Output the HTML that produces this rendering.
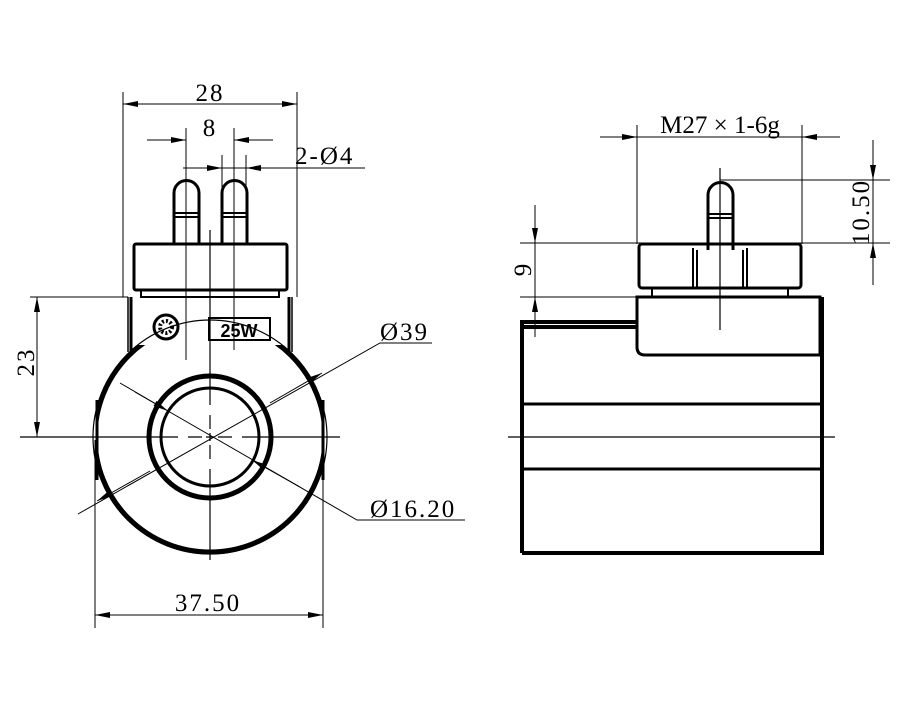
<!DOCTYPE html>
<html><head><style>html,body{margin:0;padding:0;background:#fff}svg{display:block}</style></head>
<body>
<svg width="900" height="711" viewBox="0 0 900 711" xmlns="http://www.w3.org/2000/svg" font-family="'Liberation Serif','Noto Serif CJK SC',serif">
<defs>
<marker id="a" viewBox="0 0 10 4" refX="10" refY="2" markerWidth="18" markerHeight="6" markerUnits="userSpaceOnUse" orient="auto-start-reverse"><path d="M0,0L10,2L0,4z" fill="#000"/></marker>
<clipPath id="cl"><rect x="97" y="345" width="226" height="230"/></clipPath>
</defs>
<g stroke="#000" fill="none">
<!-- LEFT VIEW -->
<circle cx="210" cy="437" r="117" stroke-width="1.2"/>
<g clip-path="url(#cl)"><circle cx="210" cy="437" r="115" stroke-width="5"/></g>
<line x1="97" y1="400" x2="97" y2="480" stroke-width="3"/>
<line x1="323" y1="400" x2="323" y2="480" stroke-width="3"/>
<circle cx="210" cy="437" r="61" stroke-width="5"/>
<circle cx="210" cy="437" r="49" stroke-width="3"/>
<!-- bracket -->
<path d="M128 297V352M292 297V352" stroke-width="1.5"/>
<path d="M131 297V355M289 297V355" stroke-width="3"/>
<rect x="134" y="244" width="153" height="46" rx="2" stroke-width="3"/>
<path d="M141 290V297H279V290" stroke-width="2"/>
<!-- pins -->
<path d="M174 244V193A12.5 12.5 0 0 1 199 193V244" stroke-width="3"/>
<path d="M174 213H199M174 217H199" stroke-width="2"/>
<path d="M222 244V193A12.5 12.5 0 0 1 247 193V244" stroke-width="3"/>
<path d="M222 213H247M222 217H247" stroke-width="2"/>
<circle cx="166" cy="327" r="12" stroke-width="3"/>
<circle cx="166" cy="327" r="6" stroke-width="4" stroke-dasharray="2 2"/>
<rect x="209" y="318" width="61" height="22" stroke-width="2"/>
<!-- center lines -->
<path d="M20 437H178M188 437H202M206 437H214M218 437H232M242 437H340" stroke-width="1.2"/>
<path d="M210 230V405M210 415V429M210 433V441M210 445V459M210 469V560" stroke-width="1.2"/>
<!-- dims left -->
<path d="M123 92V297M297 92V297" stroke-width="1"/>
<line x1="123" y1="104" x2="297" y2="104" stroke-width="1" marker-start="url(#a)" marker-end="url(#a)"/>
<path d="M186 128V360M234 128V350" stroke-width="1"/>
<path d="M147 140H186M234 140H273" stroke-width="1"/>
<line x1="160" y1="140" x2="186" y2="140" stroke-width="1" marker-end="url(#a)"/>
<line x1="260" y1="140" x2="234" y2="140" stroke-width="1" marker-end="url(#a)"/>
<path d="M222 155V244M246 155V244" stroke-width="1"/>
<path d="M183 168H365" stroke-width="1"/>
<line x1="198" y1="168" x2="222" y2="168" stroke-width="1" marker-end="url(#a)"/>
<line x1="272" y1="168" x2="246" y2="168" stroke-width="1" marker-end="url(#a)"/>
<path d="M30 297H128" stroke-width="1"/>
<line x1="37" y1="297" x2="37" y2="437" stroke-width="1" marker-start="url(#a)" marker-end="url(#a)"/>
<path d="M95 440V628M323 440V628" stroke-width="1"/>
<line x1="95" y1="615" x2="323" y2="615" stroke-width="1" marker-start="url(#a)" marker-end="url(#a)"/>
<path d="M78 514L380 343H432" stroke-width="1"/>
<line x1="270" y1="403" x2="322" y2="373" stroke-width="1" marker-end="url(#a)"/>
<line x1="150" y1="471" x2="97" y2="501" stroke-width="1" marker-end="url(#a)"/>
<path d="M135 392L357 520H465" stroke-width="1"/>
<line x1="120" y1="383" x2="168" y2="411" stroke-width="1" marker-end="url(#a)"/>
<line x1="300" y1="487" x2="252" y2="460" stroke-width="1" marker-end="url(#a)"/>
<!-- RIGHT VIEW -->
<path d="M522 553V322H636M522 327H636" stroke-width="4"/>
<path d="M522 553H822V297" stroke-width="4"/>
<path d="M642 297H820V355H645Q637 355 637 347V297Z" stroke-width="3"/>
<path d="M524 404H820M524 469H820" stroke-width="3"/>
<rect x="639" y="244" width="162" height="44" rx="3" stroke-width="3"/>
<path d="M693 248V288M747 248V288M697 250V288M743 250V288" stroke-width="2"/>
<path d="M652 288V297H788V288" stroke-width="2"/>
<path d="M708 250V195A12.5 12.5 0 0 1 733 195V250" stroke-width="3"/>
<path d="M708 214H733M708 218H733" stroke-width="2"/>
<path d="M508 437H835M720 168V330" stroke-width="1.2"/>
<path d="M637 125V244M802 125V244" stroke-width="1"/>
<path d="M600 137H840" stroke-width="1"/>
<line x1="612" y1="137" x2="637" y2="137" stroke-width="1" marker-end="url(#a)"/>
<line x1="828" y1="137" x2="802" y2="137" stroke-width="1" marker-end="url(#a)"/>
<path d="M720 180H890M520 243H890" stroke-width="1"/>
<path d="M873 140V285" stroke-width="1"/>
<line x1="873" y1="155" x2="873" y2="180" stroke-width="1" marker-end="url(#a)"/>
<line x1="873" y1="268" x2="873" y2="243" stroke-width="1" marker-end="url(#a)"/>
<path d="M520 297H640" stroke-width="1"/>
<path d="M535 205V337" stroke-width="1"/>
<line x1="535" y1="218" x2="535" y2="243" stroke-width="1" marker-end="url(#a)"/>
<line x1="535" y1="322" x2="535" y2="297" stroke-width="1" marker-end="url(#a)"/>
</g>
<g fill="#000" font-size="25" letter-spacing="2">
<text x="210" y="101" text-anchor="middle">28</text>
<text x="210" y="136" text-anchor="middle">8</text>
<text x="295" y="164">2-Ø4</text>
<text x="380" y="340">Ø39</text>
<text x="370" y="517">Ø16.20</text>
<text x="208" y="611" text-anchor="middle">37.50</text>
<text transform="translate(34 362) rotate(-90)" text-anchor="middle">23</text>
<text x="720" y="133" text-anchor="middle" letter-spacing="0">M27 × 1-6g</text>
<text transform="translate(869 212) rotate(-90)" text-anchor="middle">10.50</text>
<text transform="translate(531 269) rotate(-90)" text-anchor="middle">9</text>
<text x="239" y="337" text-anchor="middle" letter-spacing="0" font-family="'Liberation Sans',sans-serif" font-weight="bold" font-size="18">25W</text>
</g>
</svg>
</body></html>
